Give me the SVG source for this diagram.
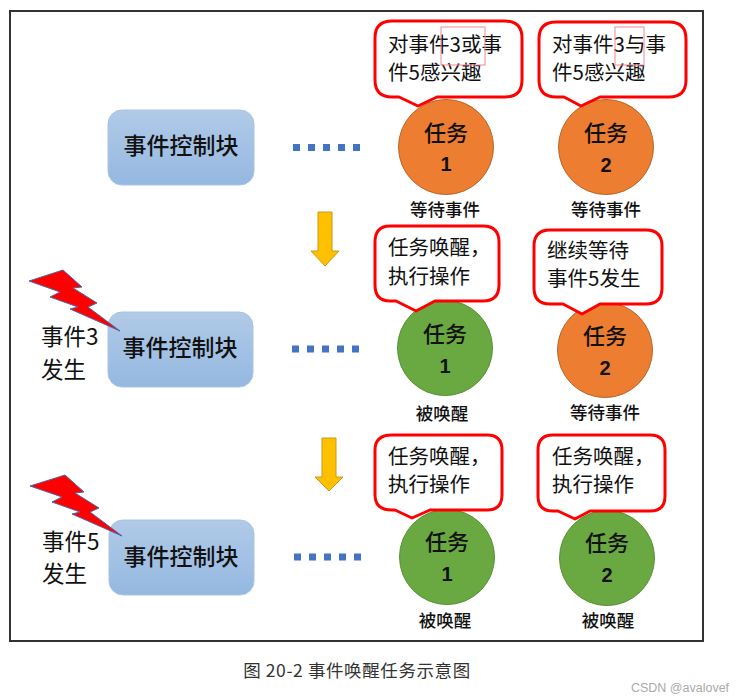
<svg xmlns="http://www.w3.org/2000/svg" width="737" height="700" viewBox="0 0 737 700">
<defs>
<linearGradient id="blue" x1="0" y1="0" x2="0" y2="1"><stop offset="0" stop-color="#b1cae7"/><stop offset="1" stop-color="#95b8e1"/></linearGradient>
</defs>
<style>
text{font-family:"Noto Sans CJK SC","Liberation Sans",sans-serif;fill:#111;text-anchor:middle}
.ctl{fill:url(#blue);stroke:#a9c4e4;stroke-width:1}
.ctlt{font-size:23px;font-weight:500}
.org{fill:#ed7d31;stroke:#b8672e;stroke-width:1}
.grn{fill:#6aa842;stroke:#5b9138;stroke-width:1}
.task{font-size:22px;font-weight:500}
.num{font-size:20px;font-weight:700;font-family:"Liberation Sans",sans-serif}
.st{font-size:17.500px;font-weight:500}
.bub{fill:#fff;stroke:#f00;stroke-width:3;stroke-linejoin:round}
.bt{font-size:20.500px;text-anchor:start}
.side{font-size:22.500px;text-anchor:start}
.bolt{fill:#f00;stroke:#4a66a8;stroke-width:1}
.arrow{fill:#ffc000;stroke:#c9981a;stroke-width:1}
.dots{stroke:#4472c4;stroke-width:7;stroke-dasharray:7 8;fill:none}
.hl{fill:none;stroke:#f08a92;stroke-width:1}
</style>
<rect x="0" y="0" width="737" height="700" fill="#fff"/>
<rect id="frame" x="10" y="11" width="693" height="630" fill="#fff" stroke="#333" stroke-width="2"/>

<g id="connectors">
<path class="dots" d="M293 147.500H362"/>
<path class="dots" d="M292 349H362"/>
<path class="dots" d="M294 557H362"/>
<path class="arrow" d="M318 212H332V251H339L325 266L311 251H318Z"/>
<path class="arrow" d="M322 438H336V477H343L329 491L315 477H322Z"/>
</g>

<g id="control1"><rect class="ctl" x="108" y="110" width="146" height="75" rx="14"/><text class="ctlt" x="181" y="154">事件控制块</text></g>
<g id="control2"><rect class="ctl" x="108" y="312" width="145" height="75" rx="14"/><text class="ctlt" x="180" y="356">事件控制块</text></g>
<g id="control3"><rect class="ctl" x="109" y="520" width="145" height="75" rx="14"/><text class="ctlt" x="181" y="565">事件控制块</text></g>

<g id="event3"><path class="bolt" d="M29 281L63 270L82 287L73 288L97 303L88 307L120 331L70 309L78 307L50 297L60 292Z"/><text class="side" x="41" y="345">事件3</text><text class="side" x="41" y="378">发生</text></g>
<g id="event5"><path class="bolt" d="M30 486L65 475L84 492L75 493L99 508L90 512L122 536L72 514L80 512L52 502L62 497Z"/><text class="side" x="42" y="550">事件5</text><text class="side" x="42" y="582">发生</text></g>

<g id="task1a"><circle class="org" cx="446" cy="147" r="47.500"/><text class="task" x="446" y="141">任务</text><text class="num" x="446" y="171">1</text><text class="st" x="445" y="216">等待事件</text></g>
<g id="bubble1a"><path class="bub" d="M392 21H505Q522 21 522 38V80Q522 97 505 97H437L418 106L399 97H392Q375 97 375 80V38Q375 21 392 21Z"/><text class="bt" x="388" y="52">对事件3或事</text><text class="bt" x="388" y="80">件5感兴趣</text><rect class="hl" x="441" y="27" width="44" height="38"/></g>

<g id="task2a"><circle class="org" cx="606" cy="147" r="47.500"/><text class="task" x="606" y="141">任务</text><text class="num" x="606" y="172">2</text><text class="st" x="606" y="216">等待事件</text></g>
<g id="bubble2a"><path class="bub" d="M556 22H669Q686 22 686 39V80Q686 97 669 97H600L581 106L564 97H556Q539 97 539 80V39Q539 22 556 22Z"/><text class="bt" x="552" y="52">对事件3与事</text><text class="bt" x="552" y="80">件5感兴趣</text><rect class="hl" x="615" y="27" width="29" height="38"/></g>

<g id="task1b"><circle class="grn" cx="445" cy="348" r="47.500"/><text class="task" x="445" y="342">任务</text><text class="num" x="445" y="373">1</text><text class="st" x="442" y="420">被唤醒</text></g>
<g id="bubble1b"><path class="bub" d="M390 226H483Q499 226 499 242V285Q499 301 483 301H435L416 311L396 301H390Q375 301 375 285V242Q375 226 390 226Z"/><text class="bt" x="388" y="255">任务唤醒，</text><text class="bt" x="388" y="284">执行操作</text></g>

<g id="task2b"><circle class="org" cx="605" cy="350" r="47.500"/><text class="task" x="605" y="344">任务</text><text class="num" x="605" y="375">2</text><text class="st" x="605" y="419">等待事件</text></g>
<g id="bubble2b"><path class="bub" d="M550 230H646Q662 230 662 246V288Q662 304 646 304H600L582 314L563 304H550Q534 304 534 288V246Q534 230 550 230Z"/><text class="bt" x="547" y="258">继续等待</text><text class="bt" x="547" y="286">事件5发生</text></g>

<g id="task1c"><circle class="grn" cx="447" cy="557" r="47.500"/><text class="task" x="447" y="550">任务</text><text class="num" x="447" y="581">1</text><text class="st" x="445" y="627">被唤醒</text></g>
<g id="bubble1c"><path class="bub" d="M392 435H487Q502 435 502 450V495Q502 510 487 510H430L412 518L395 510H392Q375 510 375 495V450Q375 435 392 435Z"/><text class="bt" x="388" y="464">任务唤醒，</text><text class="bt" x="388" y="492">执行操作</text></g>

<g id="task2c"><circle class="grn" cx="607" cy="558" r="47.500"/><text class="task" x="607" y="551">任务</text><text class="num" x="607" y="582">2</text><text class="st" x="608" y="627">被唤醒</text></g>
<g id="bubble2c"><path class="bub" d="M553 435H650Q665 435 665 450V496Q665 511 650 511H590L575 519L558 511H553Q538 511 538 496V450Q538 435 553 435Z"/><text class="bt" x="552" y="464">任务唤醒，</text><text class="bt" x="552" y="492">执行操作</text></g>

<text id="caption" x="357" y="677" style="font-size:17.500px;letter-spacing:.6px;fill:#333">图 20-2 事件唤醒任务示意图</text>
<text id="watermark" x="680" y="692" style="font-size:12.500px;fill:#aaa;font-family:'Liberation Sans',sans-serif">CSDN @avalovef</text>
</svg>
